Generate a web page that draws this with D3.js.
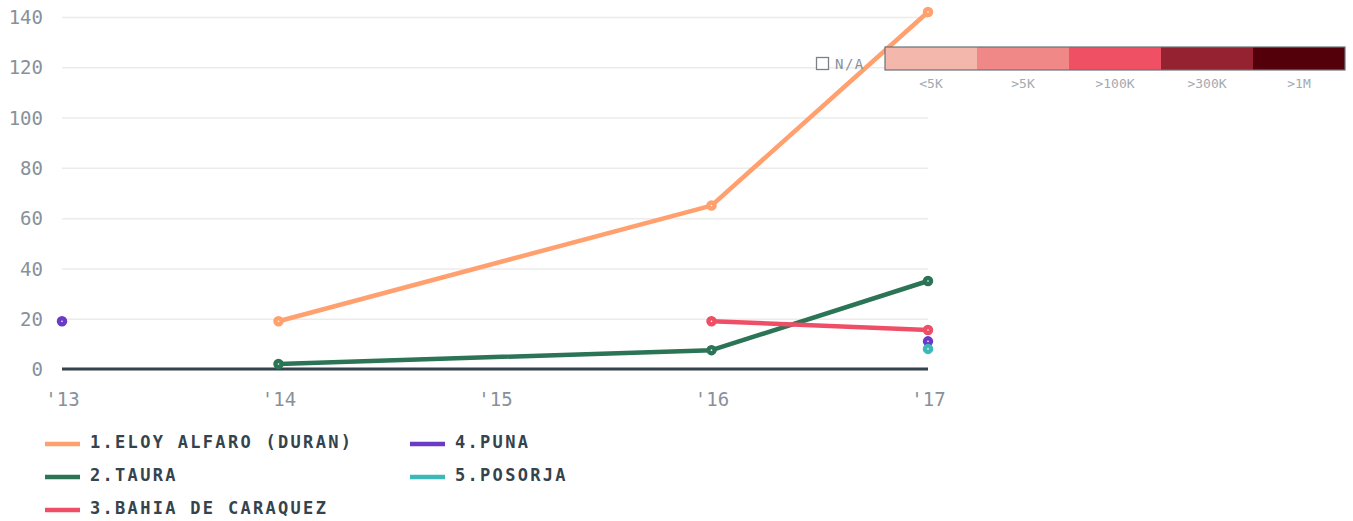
<!DOCTYPE html>
<html><head><meta charset="utf-8">
<script src="https://cdn.jsdelivr.net/npm/d3@7"></script>
<style>
body{margin:0;background:#fff;}
svg{display:block;font-family:"DejaVu Sans Mono","Liberation Mono",monospace;}
</style></head>
<body><svg id="c" width="1353" height="521"></svg>
<script>
const years = ["'13","'14","'15","'16","'17"];
const yTicks = [0,20,40,60,80,100,120,140];
const seriesNames = ["1.ELOY ALFARO (DURAN)","2.TAURA","3.BAHIA DE CARAQUEZ","4.PUNA","5.POSORJA"];
const seriesColors = ["#ffa06e","#2b7456","#ef4f66","#6b3bc6","#3db8b8"];
const eloyValues = [null,19,null,65,142];
const tauraValues = [null,2,null,7.5,35];
const bahiaValues = [null,null,null,19,15.5];
const punaValues = [19,null,null,null,11];
const posorjaValues = [null,null,null,null,8];
const allValues = [eloyValues,tauraValues,bahiaValues,punaValues,posorjaValues];
const scaleLabels = ["<5K",">5K",">100K",">300K",">1M"];
const scaleColors = ["#f4b7ac","#f08887","#ef5063","#942230","#53000b"];

const FONT = '"DejaVu Sans Mono","Liberation Mono",monospace';
const svg = d3.select("#c");
const x = d3.scalePoint().domain(years).range([62,928]);
const y = d3.scaleLinear().domain([0,140]).range([369,17]);

// grid
const yAxis = d3.axisLeft(y).tickValues(yTicks).tickSize(-(928-62)).tickPadding(19);
const gy = svg.append("g").attr("transform","translate(62,0)").call(yAxis).attr("font-family",FONT);
gy.select(".domain").remove();
gy.selectAll(".tick line").attr("stroke","#ebebeb").attr("stroke-width",1.5);
gy.selectAll(".tick text").attr("fill","#87919a").style("font-size","19px").attr("dy","0.35em");

const xAxis = d3.axisBottom(x).tickSize(0).tickPadding(24);
const gx = svg.append("g").attr("transform","translate(0,369)").call(xAxis).attr("font-family",FONT);
gx.select(".domain").remove();
gx.selectAll(".tick text").attr("fill","#87919a").style("font-size","19px").attr("dy","0.71em");

// baseline
svg.append("line").attr("x1",62).attr("x2",928).attr("y1",y(0)).attr("y2",y(0))
  .attr("stroke","#34434d").attr("stroke-width",3);

// years with no data in any series are skipped; other gaps break the line
const activeIdx = years.map((_,j)=>j).filter(j=>allValues.some(s=>s[j]!==null));
const line = d3.line().defined(d=>d.v!==null).x(d=>x(d.k)).y(d=>y(d.v));
allValues.forEach((vals,i)=>{
  const pts = activeIdx.map(j=>({k:years[j],v:vals[j]}));
  svg.append("path").datum(pts).attr("d",line).attr("fill","none")
    .attr("stroke",seriesColors[i]).attr("stroke-width",4.5).attr("stroke-linejoin","round");
});
allValues.forEach((vals,i)=>{
  const pts = vals.map((v,j)=>({k:years[j],v})).filter(d=>d.v!==null);
  svg.selectAll(null).data(pts).enter().append("circle")
    .attr("cx",d=>x(d.k)).attr("cy",d=>y(d.v)).attr("r",4.5)
    .attr("fill",seriesColors[i]).attr("stroke",seriesColors[i]).attr("stroke-width",1.5);
  svg.selectAll(null).data(pts).enter().append("circle")
    .attr("cx",d=>x(d.k)).attr("cy",d=>y(d.v)).attr("r",0.8).attr("fill","#fff");
});

// legend
const legPos = [[40,442],[40,475],[40,508],[405,442],[405,475]];
seriesNames.forEach((n,i)=>{
  const [lx,ly]=legPos[i];
  svg.append("line").attr("x1",lx+5).attr("x2",lx+40).attr("y1",ly+2).attr("y2",ly+2)
    .attr("stroke",seriesColors[i]).attr("stroke-width",4.5);
  svg.append("text").attr("x",lx+50).attr("y",ly).attr("dy","0.35em")
    .attr("fill","#34434d").style("font-size","17px").style("font-weight","bold")
    .style("letter-spacing","2.3px").text(n);
});

// color scale legend
const bx = d3.scaleBand().domain(scaleLabels).range([885,1345]);
svg.selectAll(null).data(scaleLabels).enter().append("rect")
  .attr("x",d=>bx(d)).attr("y",47).attr("width",bx.bandwidth()).attr("height",23)
  .attr("fill",(d,i)=>scaleColors[i]);
svg.append("rect").attr("x",885).attr("y",47).attr("width",460).attr("height",23)
  .attr("fill","none").attr("stroke","#6b7278").attr("stroke-width",1.2);
svg.selectAll(null).data(scaleLabels).enter().append("text")
  .attr("x",d=>bx(d)+bx.bandwidth()/2).attr("y",83).attr("dy","0.35em")
  .attr("text-anchor","middle").attr("fill","#a3aab0").style("font-size","13px").text(d=>d);
svg.append("rect").attr("x",816.5).attr("y",57.5).attr("width",12).attr("height",12)
  .attr("fill","#fff").attr("stroke","#7a8288").attr("stroke-width",1.3);
svg.append("text").attr("x",835).attr("y",64).attr("dy","0.35em").attr("fill","#87919a")
  .style("font-size","14px").style("letter-spacing","1.5px").text("N/A");
</script></body></html>
